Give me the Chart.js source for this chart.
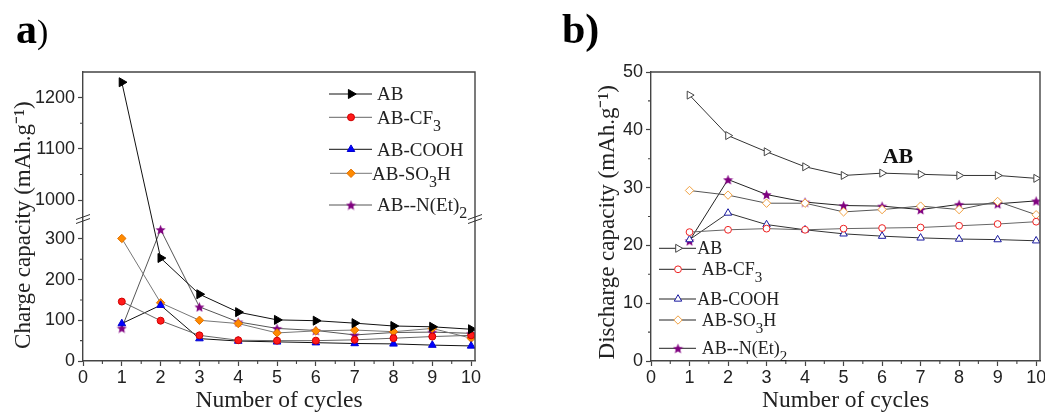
<!DOCTYPE html>
<html>
<head>
<meta charset="utf-8">
<script src="https://cdn.jsdelivr.net/npm/chart.js@4.4.1/dist/chart.umd.min.js"></script>
<style>
html, body { margin: 0; padding: 0; background: #fff; overflow: hidden; width: 1045px; height: 413px; }
.panel { position: absolute; top: 0; height: 413px; }
#wrapA { left: 0; width: 520px; }
#wrapB { left: 520px; width: 560px; }
.tag { position: absolute; font-family: "Liberation Serif", "Times New Roman", serif; font-weight: bold; color: #000; z-index: 2; }
</style>
</head>
<body>
<div id="wrapA" class="panel"><canvas id="chartA" width="520" height="413"></canvas></div>
<div id="wrapB" class="panel"><canvas id="chartB" width="560" height="413"></canvas></div>
<div class="tag" style="left:16px;top:5px;font-size:42px;">a<span style="font-weight:normal;font-size:34px;">)</span></div>
<div class="tag" style="left:562px;top:5px;font-size:42px;">b)</div>
<script>
// values
const cycles = [1, 2, 3, 4, 5, 6, 7, 8, 9, 10];
const xTicks = [0, 1, 2, 3, 4, 5, 6, 7, 8, 9, 10];

// a) charge capacity (mAh/g)
const chargeAB   = [1230, 253, 164, 120, 101, 99, 93, 86, 84, 78];
const chargeCF3  = [146, 99, 63, 51, 50, 50, 52, 56, 60, 63];
const chargeCOOH = [92, 137, 55, 49, 47, 45, 43, 42, 39, 37];
const chargeSO3H = [301, 143, 100, 92, 69, 74, 76, 72, 80, 56];
const chargeNEt2 = [81, 323, 133, 96, 80, 75, 64, 70, 71, 68];
const chargeYTicks = [0, 100, 200, 300, 1000, 1100, 1200];
const chargeYMinor = [50, 150, 250, 1050, 1150];

// b) discharge capacity (mAh/g)
const dischargeAB   = [46.0, 39.0, 36.2, 33.6, 32.1, 32.5, 32.3, 32.1, 32.1, 31.6];
const dischargeCF3  = [22.3, 22.7, 22.9, 22.7, 22.9, 23.0, 23.1, 23.4, 23.7, 24.1];
const dischargeCOOH = [21.0, 25.6, 23.6, 22.7, 22.0, 21.6, 21.3, 21.1, 21.0, 20.8];
const dischargeSO3H = [29.5, 28.7, 27.3, 27.3, 25.8, 26.2, 26.8, 26.2, 27.6, 25.3];
const dischargeNEt2 = [20.8, 31.4, 28.8, 27.5, 26.9, 26.8, 26.2, 27.1, 27.2, 27.7];
const dischargeYTicks = [0, 10, 20, 30, 40, 50];
const dischargeYMinor = [5, 15, 25, 35, 45];

// legend labels, [text, isSubscript]
const legendLabels = [
  [['AB']],
  [['AB-CF'], ['3', 1]],
  [['AB-COOH']],
  [['AB-SO'], ['3', 1], ['H']],
  [['AB--N(Et)'], ['2', 1]]
];

const serif = '"Liberation Serif", "Times New Roman", serif';
const sans = '"Liberation Sans", Arial, sans-serif';
const minorX = [0.5, 1.5, 2.5, 3.5, 4.5, 5.5, 6.5, 7.5, 8.5, 9.5];

// broken y axis for a): 0-350 below the break, 964-1250 above it
const chargeBreak = { low: 350, high: 964, frac: 0.493 };

class BrokenScale extends Chart.LinearScale {
  getPixelForValue(v) {
    if (v === null || v === undefined || isNaN(v)) return NaN;
    const b = chargeBreak;
    let d;
    if (v <= b.low) d = v / b.low * b.frac;
    else if (v >= b.high) d = b.frac + (v - b.high) / (this.max - b.high) * (1 - b.frac);
    else d = b.frac;
    return this.getPixelForDecimal(d);
  }
}
BrokenScale.id = 'broken';
BrokenScale.defaults = Chart.LinearScale.defaults;
Chart.register(BrokenScale);

function makeStar(size, color) {
  const c = document.createElement('canvas');
  c.width = c.height = size;
  const g = c.getContext('2d');
  const ro = size / 2 - 0.2, ri = ro * 0.45;
  g.beginPath();
  for (let i = 0; i < 10; i++) {
    const r = i % 2 ? ri : ro;
    const ang = -Math.PI / 2 + i * Math.PI / 5;
    g.lineTo(size / 2 + r * Math.cos(ang), size / 2 + 0.6 + r * Math.sin(ang));
  }
  g.closePath();
  g.fillStyle = color;
  g.fill();
  return c;
}
const star = makeStar(11, '#800080');

const pts = vals => cycles.map((c, i) => ({ x: c, y: vals[i] }));

function series(vals, line, style, radius, fill, stroke, rot) {
  return {
    data: pts(vals),
    borderColor: line,
    borderWidth: 1,
    pointStyle: style,
    pointRadius: radius,
    pointRotation: rot || 0,
    pointBackgroundColor: fill,
    pointBorderColor: stroke,
    pointBorderWidth: 1,
    tension: 0
  };
}

function xScale() {
  return {
    type: 'linear', min: 0, max: 10.1,
    afterBuildTicks: s => { s.ticks = xTicks.map(v => ({ value: v })); },
    ticks: { color: '#222', font: { family: sans, size: 18 }, padding: 1, maxRotation: 0, callback: v => v },
    grid: { drawOnChartArea: false, tickLength: 5, color: '#444', tickWidth: 1.2 },
    border: { color: '#444', width: 1.4 },
    title: { display: true, text: 'Number of cycles', color: '#222', font: { family: serif, size: 23.5, lineHeight: 1 }, padding: 0 },
    afterFit: s => { s.height = 52; }
  };
}

function yScale(type, max, ticks, title, width, titlePad) {
  return {
    type: type, min: 0, max: max,
    afterBuildTicks: s => { s.ticks = ticks.map(v => ({ value: v })); },
    ticks: { color: '#222', font: { family: sans, size: 18 }, padding: 3, callback: v => v },
    grid: { drawOnChartArea: false, tickLength: 5, color: '#444', tickWidth: 1.2 },
    border: { color: '#444', width: 1.4 },
    title: { display: true, text: title, color: '#222', font: { family: serif, size: 23 }, padding: { top: titlePad, bottom: 0 } },
    afterFit: s => { s.width = width; }
  };
}

function drawRich(ctx, parts, x, y, size, subSize, subDy) {
  parts.forEach(([t, sub]) => {
    ctx.font = (sub ? subSize : size) + 'px ' + serif;
    ctx.fillText(t, x, sub ? y + subDy : y);
    x += ctx.measureText(t).width;
  });
}

function decor(cfg) {
  return {
    id: 'decor',
    afterDraw(chart) {
      const ctx = chart.ctx, a = chart.chartArea;
      const xs = chart.scales.x, ys = chart.scales.y;
      ctx.save();
      // top and right frame
      ctx.strokeStyle = '#444';
      ctx.lineWidth = 1.4;
      ctx.beginPath();
      ctx.moveTo(a.left, a.top);
      ctx.lineTo(a.right, a.top);
      ctx.lineTo(a.right, a.bottom);
      ctx.stroke();
      // minor ticks
      ctx.lineWidth = 1.1;
      ctx.beginPath();
      minorX.forEach(v => {
        const px = xs.getPixelForValue(v);
        ctx.moveTo(px, a.bottom); ctx.lineTo(px, a.bottom + 3);
      });
      cfg.minorY.forEach(v => {
        const py = ys.getPixelForValue(v);
        ctx.moveTo(a.left, py); ctx.lineTo(a.left - 3, py);
      });
      ctx.stroke();
      // axis break marks
      if (cfg.broken) {
        const py = ys.getPixelForDecimal(chargeBreak.frac);
        ctx.strokeStyle = '#333';
        ctx.lineWidth = 1;
        [a.left, a.right].forEach(px => {
          ctx.beginPath();
          ctx.moveTo(px - 7, py + 1); ctx.lineTo(px + 7, py - 4);
          ctx.moveTo(px - 7, py + 5); ctx.lineTo(px + 7, py);
          ctx.stroke();
        });
      }
      // legend
      const L = cfg.legend;
      ctx.textBaseline = 'alphabetic';
      ctx.textAlign = 'left';
      chart.data.datasets.forEach((ds, i) => {
        const ry = L.rows[i];
        ctx.strokeStyle = L.lineColor || ds.borderColor;
        ctx.lineWidth = 1;
        ctx.beginPath();
        ctx.moveTo(L.x0[i], ry); ctx.lineTo(L.x1, ry);
        ctx.stroke();
        ctx.fillStyle = ds.pointBackgroundColor;
        ctx.strokeStyle = ds.pointBorderColor;
        ctx.lineWidth = ds.pointBorderWidth;
        Chart.helpers.drawPoint(ctx, {
          pointStyle: ds.pointStyle, rotation: ds.pointRotation,
          radius: ds.pointRadius, borderWidth: ds.pointBorderWidth
        }, L.mx, ry);
        ctx.fillStyle = '#222';
        drawRich(ctx, legendLabels[i], L.tx[i], ry + L.size * 0.33, L.size, L.sub, 7);
      });
      if (cfg.note) {
        ctx.fillStyle = '#111';
        ctx.font = 'bold 22px ' + serif;
        ctx.textAlign = 'center';
        ctx.fillText(cfg.note.text, cfg.note.x, cfg.note.y);
      }
      ctx.restore();
    }
  };
}

new Chart(document.getElementById('chartA'), {
  type: 'line',
  data: {
    datasets: [
      series(chargeAB, '#111', 'triangle', 5.2, '#000', '#000', 90),
      series(chargeCF3, '#666', 'circle', 3.5, '#ff1a1a', '#d00000'),
      series(chargeCOOH, '#111', 'triangle', 4.4, '#0000ff', '#0000d0'),
      series(chargeSO3H, '#777', 'rectRot', 4.2, '#ff8a00', '#e07000'),
      series(chargeNEt2, '#555', star, 4, '#800080', '#800080')
    ]
  },
  options: {
    responsive: false, animation: false, events: [],
    layout: { padding: { top: 72, right: 45, left: 0, bottom: 0 } },
    plugins: { legend: { display: false }, tooltip: { enabled: false } },
    scales: {
      x: xScale(),
      y: yScale('broken', 1250, chargeYTicks, 'Charge capacity (mAh.g\u207B\u00B9)   ', 83, 10)
    }
  },
  plugins: [decor({
    minorY: chargeYMinor, broken: true,
    legend: { x0: [329, 329, 329, 330, 329], x1: 372, mx: 351, rows: [94, 117.3, 149.3, 173.3, 205],
              tx: [377, 377, 377, 372, 377], size: 19, sub: 16 }
  })]
});

new Chart(document.getElementById('chartB'), {
  type: 'line',
  data: {
    datasets: [
      series(dischargeAB, '#333', 'triangle', 4.6, '#fff', '#444', 90),
      series(dischargeCF3, '#666', 'circle', 3.4, '#fff', '#ee2020'),
      series(dischargeCOOH, '#333', 'triangle', 4.3, '#fff', '#1a1aa0'),
      series(dischargeSO3H, '#555', 'rectRot', 4.2, '#fff', '#f0a040'),
      series(dischargeNEt2, '#222', star, 4, '#800080', '#800080')
    ]
  },
  options: {
    responsive: false, animation: false, events: [],
    layout: { padding: { top: 72, right: 40, left: 0, bottom: 0 } },
    plugins: { legend: { display: false }, tooltip: { enabled: false } },
    scales: {
      x: xScale(),
      y: yScale('linear', 50, dischargeYTicks, 'Discharge capacity (mAh.g\u207B\u00B9)  ', 131, 74)
    }
  },
  plugins: [decor({
    minorY: dischargeYMinor, broken: false,
    legend: { x0: [139, 139, 139, 139, 139], x1: 176, mx: 158, rows: [248.3, 269.3, 299, 320, 348.3],
              tx: [177.3, 181.7, 177.3, 181.7, 181.7], size: 18, sub: 15, lineColor: '#222' },
    note: { text: 'AB', x: 378, y: 163 }
  })]
});
</script>
</body>
</html>
